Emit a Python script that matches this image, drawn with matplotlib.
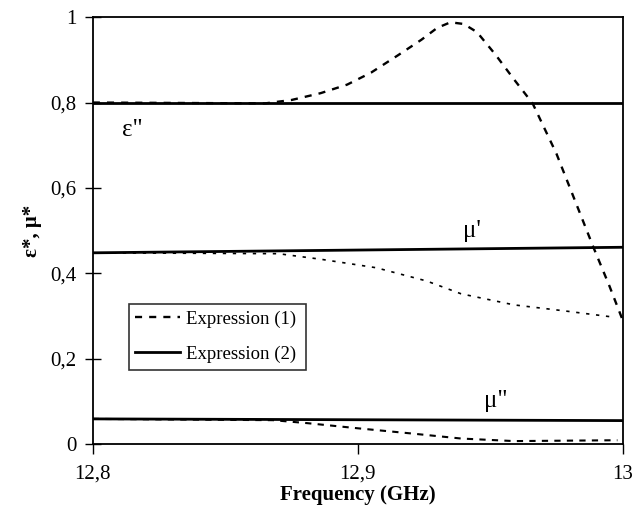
import numpy as np
import matplotlib
matplotlib.use("Agg")
import matplotlib.pyplot as plt

plt.rcParams['font.family'] = ['Liberation Serif', 'DejaVu Serif']

# Expression (2): flat-ish solid lines
f_solid = [12.8, 13.0]
eps2_solid = [0.80, 0.80]
mu1_solid = [0.448, 0.461]
mu2_solid = [0.059, 0.055]

# Expression (1): dashed curves
f_eps2 = [12.8, 12.865, 12.875, 12.886, 12.896, 12.905, 12.915, 12.924, 12.930,
          12.935, 12.940, 12.945, 12.952, 12.959, 12.966, 12.975, 12.982, 12.989, 12.995, 13.0]
eps2_dash = [0.80, 0.798, 0.806, 0.822, 0.842, 0.870, 0.910, 0.947, 0.975,
             0.988, 0.984, 0.965, 0.912, 0.854, 0.798, 0.68, 0.57, 0.46, 0.37, 0.29]

f_mu1 = [12.8, 12.870, 12.886, 12.907, 12.926, 12.939, 12.959, 12.978, 12.997]
mu1_dash = [0.448, 0.446, 0.433, 0.413, 0.382, 0.352, 0.326, 0.312, 0.297]

f_mu2 = [12.8, 12.868, 12.881, 12.900, 12.920, 12.939, 12.959, 12.998]
mu2_dash = [0.059, 0.056, 0.049, 0.037, 0.025, 0.013, 0.007, 0.009]

x_ticks = [12.8, 12.9, 13.0]
x_labels = ['12,8', '12,9', '13']
y_ticks = [0, 0.2, 0.4, 0.6, 0.8, 1.0]
y_labels = ['0', '0,2', '0,4', '0,6', '0,8', '1']

fig = plt.figure(figsize=(6.4, 5.2), dpi=100)
ax = fig.add_axes([0.145, 0.146, 0.828, 0.821])

ax.plot(f_eps2, eps2_dash, color='black', lw=1.7, ls=(0, (3, 3)), label='Expression (1)')
ax.plot(f_mu1, mu1_dash, color='black', lw=1.2, ls=(0, (2, 4)))
ax.plot(f_mu2, mu2_dash, color='black', lw=1.5, ls=(0, (3, 3)))

ax.plot(f_solid, eps2_solid, color='black', lw=2, label='Expression (2)')
ax.plot(f_solid, mu1_solid, color='black', lw=2)
ax.plot(f_solid, mu2_solid, color='black', lw=2)

ax.set_xlim(12.8, 13.0)
ax.set_ylim(0, 1)
ax.set_xticks(x_ticks)
ax.set_xticklabels(x_labels)
ax.set_yticks(y_ticks)
ax.set_yticklabels(y_labels)
ax.tick_params(axis='x', direction='out', length=7, width=1, labelsize=15, pad=8)
ax.tick_params(axis='y', direction='inout', length=12, width=1, labelsize=15, pad=6)
for s in ax.spines.values():
    s.set_linewidth(1.3)

ax.set_xlabel('Frequency (GHz)', fontsize=15, fontweight='bold', labelpad=1)
ax.set_ylabel('ε*, μ*', fontsize=15, fontweight='bold', labelpad=6)

ax.text(12.815, 0.735, 'ε"', fontsize=18, ha='center', va='center')
ax.text(12.943, 0.50, "μ'", fontsize=18, ha='center', va='center')
ax.text(12.952, 0.10, 'μ"', fontsize=18, ha='center', va='center')

leg = ax.legend(loc='upper left', bbox_to_anchor=(0.068, 0.328, 0.334, 0.0),
                mode='expand', fontsize=13.5, frameon=True, fancybox=False,
                handlelength=2.4, handletextpad=0.3, borderpad=0.35,
                labelspacing=0.95, borderaxespad=0, edgecolor='black')
leg.get_frame().set_linewidth(1.2)

fig.savefig('out.png', dpi=100)
